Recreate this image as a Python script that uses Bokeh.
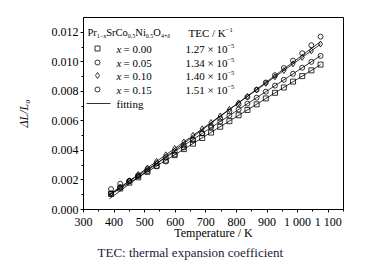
import numpy as np
from bokeh.plotting import figure
from bokeh.models import Range1d, FixedTicker, NumeralTickFormatter, Label, Title
from bokeh.embed import file_html
from bokeh.resources import INLINE

# ---------------- data ----------------
temperature = [390, 420, 450, 479, 509, 539, 569, 598, 628, 658, 688, 717,
               747, 777, 807, 836, 866, 896, 926, 955, 985, 1015, 1045, 1075]
dl_x000 = [0.00105, 0.00142, 0.00182, 0.00218, 0.00255, 0.00296, 0.00332, 0.00368,
           0.00409, 0.00446, 0.00484, 0.00521, 0.00560, 0.00598, 0.00638, 0.00674,
           0.00712, 0.00752, 0.00790, 0.00826, 0.00866, 0.00903, 0.00942, 0.00981]
dl_x005 = [0.00110, 0.00151, 0.00192, 0.00231, 0.00272, 0.00313, 0.00353, 0.00393,
           0.00434, 0.00474, 0.00515, 0.00555, 0.00595, 0.00636, 0.00677, 0.00717,
           0.00757, 0.00798, 0.00839, 0.00878, 0.00919, 0.00960, 0.01000, 0.01040]
dl_x010 = [0.00105, 0.00149, 0.00194, 0.00237, 0.00281, 0.00326, 0.00370, 0.00413,
           0.00457, 0.00502, 0.00546, 0.00589, 0.00633, 0.00678, 0.00722, 0.00765,
           0.00810, 0.00854, 0.00898, 0.00941, 0.00986, 0.01030, 0.01074, 0.01120]
dl_x015 = [0.00138, 0.00174, 0.00194, 0.00226, 0.00260, 0.00292, 0.00325, 0.00372,
           0.00420, 0.00468, 0.00517, 0.00566, 0.00615, 0.00664, 0.00713, 0.00762,
           0.00811, 0.00860, 0.00909, 0.00958, 0.01008, 0.01058, 0.01112, 0.01170]
series_names = ["0.00", "0.05", "0.10", "0.15"]
tec_values = ["1.27", "1.34", "1.40", "1.51"]
x_ticks = [300, 400, 500, 600, 700, 800, 900, 1000, 1100]
y_ticks = [0.0, 0.002, 0.004, 0.006, 0.008, 0.010, 0.012]

# ---------------- figure ----------------
FL, FR, FT, FB = 83, 343, 17, 209   # frame edges in canvas px
BOTTOM = 50
RIGHT = 19
XR = (300, 1150)
YR = (0.0, 0.013)
FONT = "Liberation Serif"

p = figure(frame_width=FR - FL, frame_height=FB - FT,
           output_backend="svg", toolbar_location=None,
           x_range=Range1d(*XR), y_range=Range1d(*YR),
           min_border_left=FL, min_border_right=RIGHT,
           min_border_top=FT, min_border_bottom=BOTTOM)
p.background_fill_color = "white"
p.border_fill_color = "white"
p.outline_line_color = "black"
p.outline_line_width = 1
p.xgrid.visible = False
p.ygrid.visible = False


def to_data(sx, sy):
    """canvas pixel (from top-left) -> data coordinates (for legend layout)"""
    dx = XR[0] + (sx - FL) / (FR - FL) * (XR[1] - XR[0])
    dy = YR[0] + (FB - sy) / (FB - FT) * (YR[1] - YR[0])
    return dx, dy


# axes
for ax in (p.xaxis[0], p.yaxis[0]):
    ax.axis_line_color = "black"
    ax.axis_line_width = 1
    ax.major_tick_out = 3
    ax.major_tick_in = 0
    ax.minor_tick_out = 2
    ax.minor_tick_in = 0
    ax.major_tick_line_color = "black"
    ax.minor_tick_line_color = "black"
    ax.major_label_text_font = FONT
    ax.major_label_text_font_size = "12px"
    ax.major_label_text_color = "black"
    ax.axis_label_text_font = FONT
    ax.axis_label_text_font_size = "12px"
    ax.axis_label_text_color = "black"
    ax.axis_label_text_font_style = "normal"
    ax.major_label_standoff = 2

p.xaxis.ticker = FixedTicker(ticks=x_ticks, minor_ticks=[t + 50 for t in x_ticks])
p.xaxis.major_label_overrides = {1000: "1 000", 1100: "1 100"}
p.xaxis.axis_label = "Temperature / K"
p.xaxis.axis_label_standoff = -6

p.yaxis.ticker = FixedTicker(ticks=y_ticks, minor_ticks=[t + 0.001 for t in y_ticks])
p.yaxis.formatter = NumeralTickFormatter(format="0.000")
p.yaxis.axis_label = "ΔL/L₀"
p.yaxis.axis_label_text_font_style = "italic"
p.yaxis.axis_label_standoff = 18

# data
markers = ["square", "circle", "diamond", "circle"]
msizes = [5, 5, 6, 5]
all_y = [dl_x000, dl_x005, dl_x010, dl_x015]
T = np.array(temperature, dtype=float)
for yv in all_y:
    coef = np.polyfit(T, np.array(yv), 1)
    tl = np.array([T.min() - 5, T.max()])
    p.line(tl, np.polyval(coef, tl), line_color="black", line_width=0.8)
for yv, mk, ms in zip(all_y, markers, msizes):
    p.scatter(temperature, yv, marker=mk, size=ms, fill_color=None,
              line_color="black", line_width=0.8)

# ---------------- custom legend ----------------
def text(sx, sy, s, size=11, style="normal"):
    dx, dy = to_data(sx, sy)
    p.add_layout(Label(x=dx, y=dy, text=s, text_font=FONT,
                       text_font_size=f"{size}px", text_font_style=style,
                       text_baseline="middle", text_align="left",
                       text_color="black"))

parts = [("Pr", False), ("1−x", True), ("SrCo", False), ("0.5", True),
         ("Ni", False), ("0.5", True), ("O", False), ("4+δ", True)]
wmap = {"P": .556, "r": .333, "S": .556, "C": .667, "o": .5, "N": .722, "i": .278,
        "O": .722, "1": .5, "0": .5, "4": .5, "5": .5, ".": .25, "−": .564, "x": .5,
        "+": .564, "δ": .5, "T": .611, "E": .611, "/": .278, " ": .25, "K": .722}
cx = 87
hy = 32
for s, sub in parts:
    size = 6 if sub else 10.5
    text(cx, hy + (3 if sub else 0), s, size=size)
    cx += sum(wmap.get(c, .5) for c in s) * size

text(188, hy, "TEC / K", size=11)
text(188 + sum(wmap.get(c, .5) for c in "TEC / K") * 11, hy - 3, "−1", size=6.5)

row_y = [48, 62, 75, 89]
for i, ry in enumerate(row_y):
    mx, my = to_data(97, ry)
    p.scatter([mx], [my], marker=markers[i], size=msizes[i], fill_color=None,
              line_color="black", line_width=0.8)
    text(116, ry, "x", size=11, style="italic")
    text(123, ry, "= " + series_names[i], size=11)
    base = tec_values[i] + " × 10"
    text(185, ry, base, size=11)
    wbase = (1.75 + 0.25 + 0.564 + 0.25 + 1.0) * 11
    text(185 + wbase, ry - 3, "−5", size=6.5)

fx0, fy = to_data(86, 103)
fx1, _ = to_data(110, 103)
p.line([fx0, fx1], [fy, fy], line_color="black", line_width=0.8)
text(116, 103, "fitting", size=11)

# caption
cap = Title(text="TEC: thermal expansion coefficient", align="left",
            text_font=FONT, text_font_size="13px", text_font_style="normal",
            text_color="#1a1a3a", offset=14, standoff=1)
p.add_layout(cap, "below")

open("out.html", "w").write(file_html(p, INLINE))
